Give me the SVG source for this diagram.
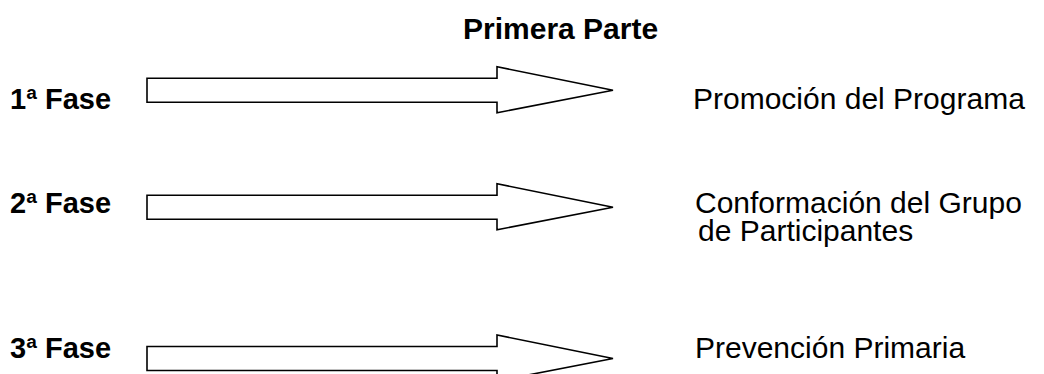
<svg xmlns="http://www.w3.org/2000/svg" width="1044" height="374" viewBox="0 0 1044 374">
<style>
.bg{fill:#ffffff}
.t{font-family:"Liberation Sans",Arial,sans-serif;font-size:30px;fill:#000}
.b{font-weight:bold}
.fase{font-size:29px}
.arrow{fill:#ffffff;stroke:#000;stroke-width:1.6;stroke-linejoin:miter}
</style>
<defs>
<path id="arr" d="M147,-12 L497,-12 L497,-23.5 L613,0 L497,22.5 L497,12 L147,12 Z"/>
</defs>
<rect class="bg" x="0" y="0" width="1044" height="374"/>
<g id="title"><text class="t b" x="463" y="39">Primera Parte</text></g>
<g id="fase1">
<text class="t b fase" x="10" y="109">1ª Fase</text>
</g>
<g id="fase2">
<text class="t b fase" x="10" y="213">2ª Fase</text>
</g>
<g id="fase3">
<text class="t b fase" x="10" y="358">3ª Fase</text>
</g>
<g id="connectors">
<use href="#arr" class="arrow" transform="translate(0,90.3)"/>
<use href="#arr" class="arrow" transform="translate(0,207.3)"/>
<use href="#arr" class="arrow" transform="translate(0,358.5)"/>
</g>
<g id="etapa1"><text class="t" x="693" y="109">Promoción del Programa</text></g>
<g id="etapa2"><text class="t" x="695" y="213">Conformación del Grupo</text><text class="t" x="698" y="241">de Participantes</text></g>
<g id="etapa3"><text class="t" x="695" y="358">Prevención Primaria</text></g>
</svg>
